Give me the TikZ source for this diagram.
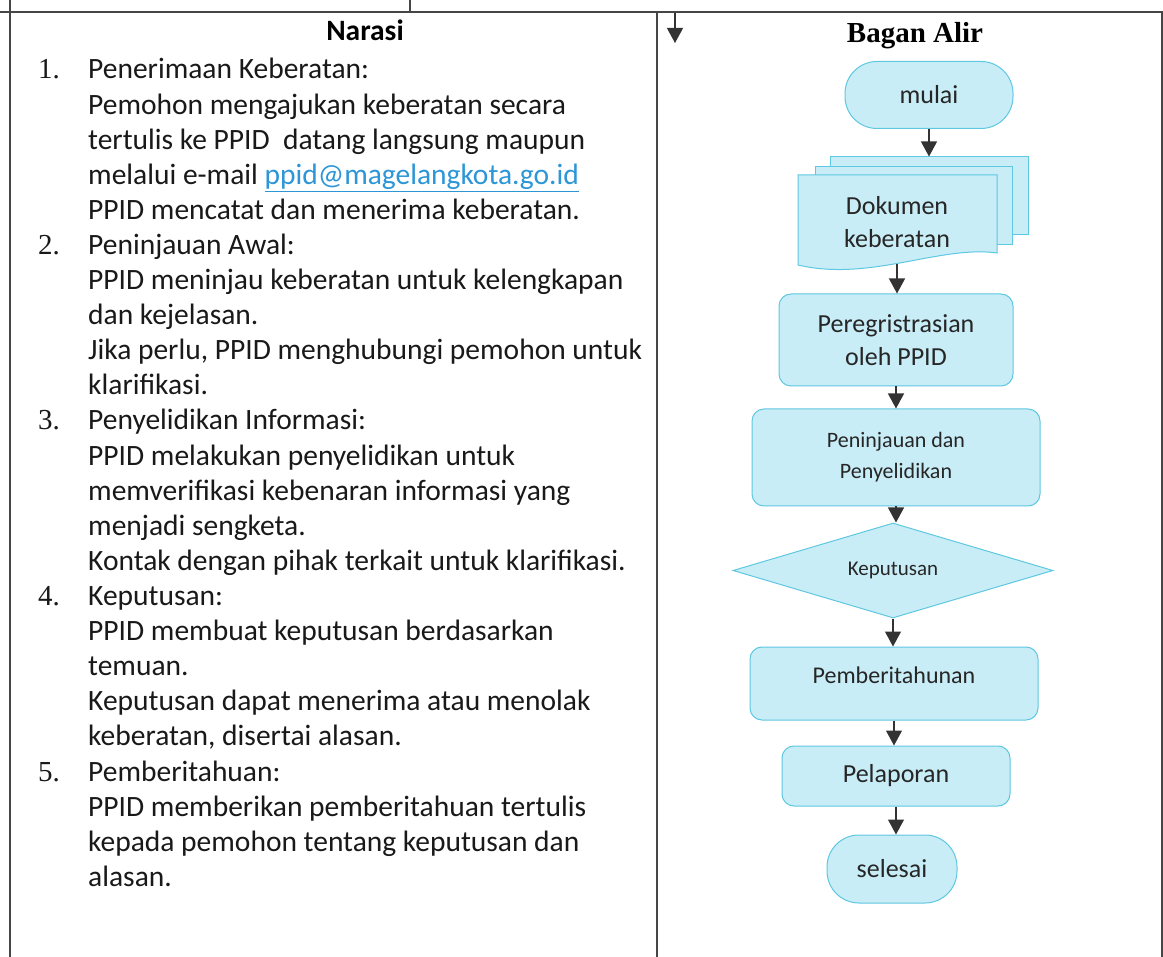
\documentclass[tikz,border=0pt]{standalone}
\usepackage{fontspec}
\setmainfont{Carlito}
\newfontfamily\serifnum{Liberation Serif}
\usetikzlibrary{arrows.meta,shapes.geometric}
\definecolor{alirfill}{RGB}{200,237,246}
\definecolor{alirline}{RGB}{95,200,225}
\definecolor{linkblue}{RGB}{45,150,215}
\definecolor{garis}{RGB}{70,70,70}
\begin{document}
\begin{tikzpicture}[x=1pt,y=1pt,
  isi/.style={draw=alirline,fill=alirfill,line width=1pt,text=black!85,inner sep=0pt,align=center,font=\fontsize{26}{33}\selectfont},
  alir/.style={isi,rounded corners=12pt},
  ujung/.style={isi,rounded corners=32pt},
  panah/.style={-{Triangle[width=16pt,length=15pt]},line width=1.2pt,black!80},
  baris/.style={anchor=base west,inner sep=0pt,text=black!90,font=\fontsize{29.5}{35}\selectfont}]
\useasboundingbox (0,0) rectangle (1163,-957);
\fill[white] (0,0) rectangle (1163,-957);
% table
\draw[garis,line width=1.6pt] (0,-12) -- (1163,-12);
\draw[garis,line width=1.2pt] (10,0) -- (10,-957) (410,0) -- (410,-12)
  (657,-12) -- (657,-957) (1162,-12) -- (1162,-957);
\node[anchor=base,inner sep=0pt,font=\fontsize{29.5}{35}\selectfont\bfseries] (narasi) at (365,-41) {Narasi};
\node[anchor=base,inner sep=0pt,font=\fontsize{29}{35}\selectfont\serifnum\bfseries] (bagan) at (915,-43) {Bagan Alir};
% narasi
\foreach \txt [count=\i from 0] in {{Penerimaan Keberatan:},{Pemohon mengajukan keberatan secara},
  {tertulis ke PPID~ datang langsung maupun},
  {melalui e-mail \textcolor{linkblue}{\underline{ppid@magelangkota.go.id}}},
  {PPID mencatat dan menerima keberatan.},{Peninjauan Awal:},
  {PPID meninjau keberatan untuk kelengkapan},{dan kejelasan.},
  {Jika perlu, PPID menghubungi pemohon untuk},{klarifikasi.},
  {Penyelidikan Informasi:},{PPID melakukan penyelidikan untuk},
  {memverifikasi kebenaran informasi yang},{menjadi sengketa.},
  {Kontak dengan pihak terkait untuk klarifikasi.},{Keputusan:},
  {PPID membuat keputusan berdasarkan},{temuan.},
  {Keputusan dapat menerima atau menolak},{keberatan, disertai alasan.},
  {Pemberitahuan:},{PPID memberikan pemberitahuan tertulis},
  {kepada pemohon tentang keputusan dan},{alasan.}}{
  \node[baris] (l\i) at (88,-79-35.1*\i) {\txt};
}
\foreach \n [count=\k from 0] in {1,...,5}{
  \node[baris,font=\fontsize{29}{35}\selectfont\serifnum] (n\n) at (38,-79-175.5*\k) {\n.};
}
% bagan alir
\coordinate (atas) at (675,-13);
\coordinate (bawah) at (675,-43);
\draw[panah] (atas) -- (bawah);
\node[ujung,minimum width=168pt,minimum height=67pt] (mulai) at (929,-95) {mulai};
\node[isi,minimum width=198pt,minimum height=78pt] (dok3) at (929,-196) {};
\node[isi,minimum width=197pt,minimum height=78pt] (dok2) at (913.5,-206) {};
\draw[draw=alirline,fill=alirfill,line width=1pt] (798,-175) -- (997,-175) -- (997,-253)
  .. controls (940,-245) and (870,-282) .. (798,-265) -- cycle;
\node[align=center,inner sep=0pt,text=black!85,font=\fontsize{26}{33}\selectfont] (dok) at (897,-222) {Dokumen\\keberatan};
\coordinate (dokbawah) at (897,-264);
\node[alir,minimum width=234pt,minimum height=92pt] (reg) at (896,-340) {Peregristrasian\\oleh PPID};
\node[alir,minimum width=288pt,minimum height=97pt,font=\fontsize{22}{31}\selectfont] (tinjau) at (896,-457.5) {Peninjauan dan\\Penyelidikan};
\node[isi,diamond,aspect=3.4,minimum width=320pt,minimum height=95pt,font=\fontsize{21}{25}\selectfont] (kep) at (893,-570.5) {Keputusan};
\node[alir,minimum width=288pt,minimum height=73pt,text depth=16pt,font=\fontsize{24}{29}\selectfont] (beri) at (894,-683.5) {Pemberitahunan};
\node[alir,minimum width=228pt,minimum height=60pt] (lapor) at (896,-776) {Pelaporan};
\node[ujung,minimum width=130pt,minimum height=68pt] (selesai) at (892,-869) {selesai};
\draw[panah] (mulai.south) -- (mulai.south |- dok3.north);
\draw[panah] (dokbawah) -- (dokbawah |- reg.north);
\foreach \a/\b in {reg/tinjau,tinjau/kep,kep/beri,beri/lapor,lapor/selesai}
  \draw[panah] (\a.south) -- (\a.south |- \b.north);
\end{tikzpicture}
\end{document}
